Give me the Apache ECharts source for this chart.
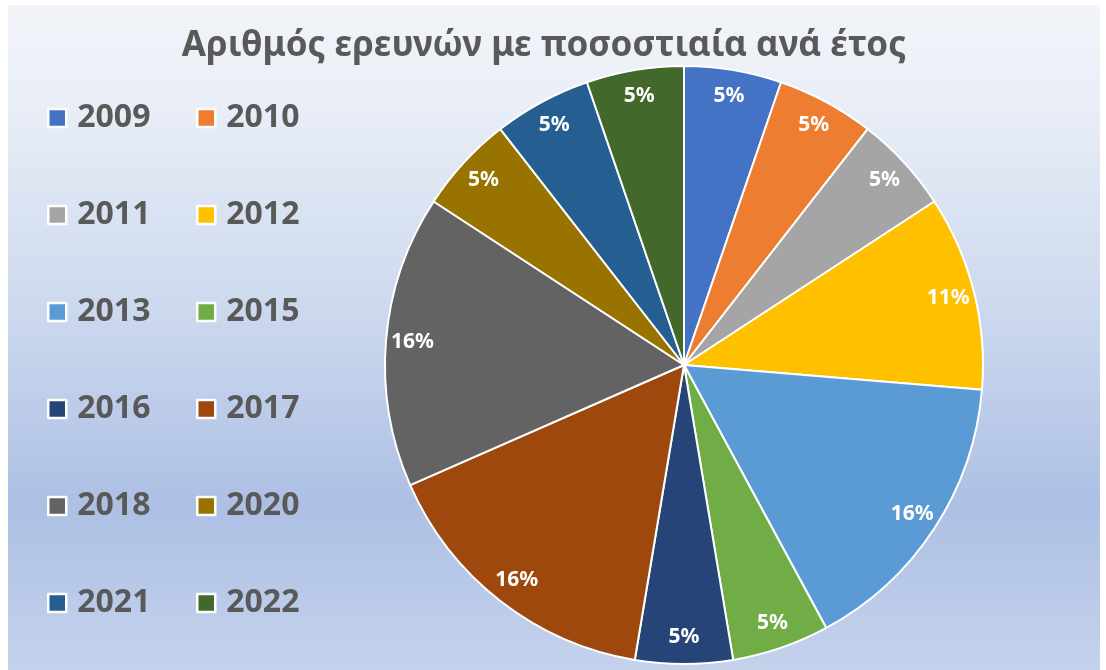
<!DOCTYPE html>
<html>
<head>
<meta charset="utf-8">
<script src="https://cdn.jsdelivr.net/npm/echarts@6/dist/echarts.min.js"></script>
<style>
  html, body { margin: 0; padding: 0; background: #fff; }
  #chart { width: 1106px; height: 670px; }
</style>
</head>
<body>
<div id="chart"></div>
<script>
const years = ['2009', '2010', '2011', '2012', '2013', '2015', '2016', '2017', '2018', '2020', '2021', '2022'];
const counts = [1, 1, 1, 2, 3, 1, 1, 3, 3, 1, 1, 1];
const colors = ['#4472C4', '#ED7D31', '#A5A5A5', '#FFC000', '#5B9BD5', '#70AD47',
                '#264478', '#9E480E', '#636363', '#997300', '#255E91', '#43682B'];

const data = years.map((y, i) => ({ name: y, value: counts[i], itemStyle: { color: colors[i] } }));
const total = counts.reduce((a, b) => a + b, 0);

const myChart = echarts.init(document.getElementById('chart'));

const legendBase = {
  orient: 'vertical',
  top: 102,
  padding: 0,
  itemWidth: 18,
  itemHeight: 18,
  itemGap: 65,
  icon: 'rect',
  itemStyle: { borderColor: '#fff', borderWidth: 2.5 },
  textStyle: {
    fontFamily: 'Noto Sans', fontWeight: 'bold', fontSize: 32, lineHeight: 32,
    color: '#595959', padding: [0, 0, 0, 6]
  },
  selectedMode: false
};

myChart.setOption({
  backgroundColor: '#ffffff',
  graphic: [{
    type: 'rect',
    z: -10,
    silent: true,
    shape: { x: 8, y: 5, width: 1092, height: 665 },
    style: {
      fill: {
        type: 'linear', x: 0, y: 0, x2: 0, y2: 1,
        colorStops: [
          { offset: 0, color: '#f2f4f9' },
          { offset: 0.15, color: '#e9eef7' },
          { offset: 0.45, color: '#cdd9ee' },
          { offset: 0.75, color: '#adc0e4' },
          { offset: 1, color: '#c4d2ec' }
        ]
      }
    }
  }],
  title: {
    text: 'Αριθμός ερευνών με ποσοστιαία ανά έτος',
    left: 539,
    textAlign: 'center',
    top: 24,
    textStyle: { fontFamily: 'Noto Sans', fontWeight: 'bold', fontSize: 35, color: '#595959' }
  },
  legend: [
    Object.assign({}, legendBase, { left: 47, data: years.filter((_, i) => i % 2 === 0) }),
    Object.assign({}, legendBase, { left: 196, data: years.filter((_, i) => i % 2 === 1) })
  ],
  series: [
    {
      name: 'Έρευνες',
      type: 'pie',
      center: [684, 365],
      radius: [0, 299],
      startAngle: 90,
      clockwise: true,
      data: data,
      itemStyle: { borderColor: '#fff', borderWidth: 2 },
      label: { show: false },
      labelLine: { show: false },
      emphasis: { disabled: true }
    },
    {
      name: 'labels',
      type: 'pie',
      center: [684, 365],
      radius: [240, 299],
      startAngle: 90,
      clockwise: true,
      silent: true,
      legendHoverLink: false,
      data: data.map(d => ({ name: d.name, value: d.value, itemStyle: { color: 'rgba(0,0,0,0)' } })),
      itemStyle: { borderWidth: 0 },
      label: {
        show: true,
        position: 'inside',
        formatter: p => Math.round(p.value / total * 100) + '%',
        fontFamily: 'Noto Sans',
        fontWeight: 'bold',
        fontSize: 21,
        color: '#fff'
      },
      labelLine: { show: false },
      emphasis: { disabled: true }
    }
  ]
});
</script>
</body>
</html>
